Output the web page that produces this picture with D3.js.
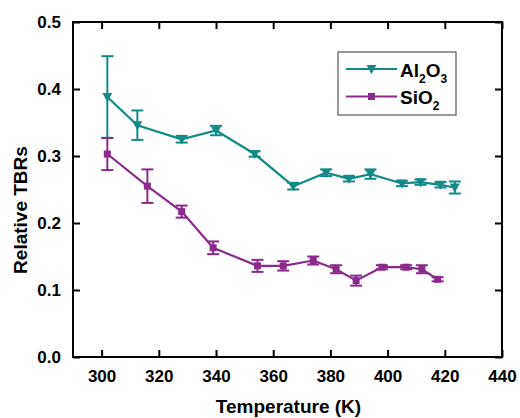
<!DOCTYPE html>
<html><head><meta charset="utf-8">
<script src="https://cdn.jsdelivr.net/npm/d3@7"></script>
<style>body{margin:0;background:#fff}svg{display:block}text{font-family:"Liberation Sans",Arial,sans-serif;font-weight:bold}</style>
</head><body>
<script>
const alT = [302, 312.5, 328, 340, 353.5, 367, 378.5, 386.5, 394, 405, 411.5, 418.5, 423.5];
const alV = [0.388, 0.346, 0.325, 0.338, 0.303, 0.255, 0.275, 0.266, 0.273, 0.259, 0.261, 0.257, 0.253];
const alE = [0.061, 0.022, 0.005, 0.007, 0.004, 0.005, 0.005, 0.004, 0.007, 0.004, 0.004, 0.004, 0.009];
const siT = [302, 316, 328, 339, 354.5, 363.5, 374, 382, 389, 398, 406.5, 412, 417.5];
const siV = [0.303, 0.255, 0.217, 0.163, 0.136, 0.136, 0.144, 0.131, 0.114, 0.134, 0.134, 0.131, 0.116];
const siE = [0.024, 0.025, 0.009, 0.0095, 0.009, 0.007, 0.006, 0.006, 0.0075, 0.003, 0.003, 0.006, 0.003];
const xTicks = [300, 320, 340, 360, 380, 400, 420, 440];
const yTicks = [0.0, 0.1, 0.2, 0.3, 0.4, 0.5];

const W = 520, H = 418;
const L = 73, R = 502, T = 22, B = 357;
const teal = "#138a86", purple = "#8c2a8c";

const svg = d3.select("body").append("svg").attr("width", W).attr("height", H);
const x = d3.scaleLinear().domain([290, 440]).range([L, R]);
const y = d3.scaleLinear().domain([0, 0.5]).range([B, T]);

// axes with inward ticks
const tl = 7;
const gB = svg.append("g").attr("transform", `translate(0,${B})`)
  .call(d3.axisBottom(x).tickValues(xTicks).tickSize(-tl).tickPadding(tl + 6).tickFormat(d3.format("d")));
const gT = svg.append("g").attr("transform", `translate(0,${T})`)
  .call(d3.axisTop(x).tickValues(xTicks).tickSize(-tl).tickFormat(""));
const gL = svg.append("g").attr("transform", `translate(${L},0)`)
  .call(d3.axisLeft(y).tickValues(yTicks).tickSize(-tl).tickPadding(tl + 5).tickFormat(d3.format(".1f")));
const gR = svg.append("g").attr("transform", `translate(${R},0)`)
  .call(d3.axisRight(y).tickValues(yTicks).tickSize(-tl).tickFormat(""));
[gB, gT, gL, gR].forEach(g => {
  g.select(".domain").remove();
  g.selectAll(".tick line").attr("stroke", "#000").attr("stroke-width", 2);
  g.selectAll(".tick text").attr("fill", "#000").style("font-size", "17px");
});
gB.selectAll(".tick text").attr("dy", "0.71em");
svg.append("rect").attr("x", L).attr("y", T).attr("width", R - L).attr("height", B - T)
  .attr("fill", "none").attr("stroke", "#000").attr("stroke-width", 2);

// titles
svg.append("text").attr("x", (L + R) / 2 + 1).attr("y", 413).attr("text-anchor", "middle")
  .style("font-size", "19px").text("Temperature (K)");
svg.append("text").attr("transform", "translate(27,210) rotate(-90)").attr("text-anchor", "middle")
  .style("font-size", "19px").text("Relative TBRs");

function series(ts, vs, es, color, shape) {
  const pts = ts.map((t, i) => ({t, v: vs[i], e: es[i]}));
  const g = svg.append("g");
  g.append("path").datum(pts).attr("fill", "none").attr("stroke", color).attr("stroke-width", 2.2)
    .attr("d", d3.line().x(d => x(d.t)).y(d => y(d.v)));
  const cw = 6;
  pts.forEach(d => {
    const cx = x(d.t), y1 = y(d.v + d.e), y2 = y(d.v - d.e);
    g.append("line").attr("x1", cx).attr("x2", cx).attr("y1", y1).attr("y2", y2).attr("stroke", color).attr("stroke-width", 2);
    [y1, y2].forEach(yy => g.append("line").attr("x1", cx - cw).attr("x2", cx + cw).attr("y1", yy).attr("y2", yy)
      .attr("stroke", color).attr("stroke-width", 2));
  });
  g.selectAll("path.m").data(pts).enter().append("path")
    .attr("d", shape).attr("fill", color)
    .attr("transform", d => `translate(${x(d.t)},${y(d.v)})`);
}
const tri = "M-5,-4L5,-4L0,5Z";
const sq = "M-3.5,-3.5H3.5V3.5H-3.5Z";
series(alT, alV, alE, teal, tri);
series(siT, siV, siE, purple, sq);

// legend
const lg = svg.append("g");
lg.append("rect").attr("x", 338).attr("y", 52).attr("width", 118).attr("height", 63)
  .attr("fill", "#fff").attr("stroke", "#555").attr("stroke-width", 1.2);
const items = [
  {name: "Al", sub1: "2", mid: "O", sub2: "3", color: teal, shape: tri, yy: 69},
  {name: "SiO", sub1: "2", color: purple, shape: sq, yy: 96.5}
];
items.forEach(it => {
  lg.append("line").attr("x1", 346).attr("x2", 397).attr("y1", it.yy).attr("y2", it.yy)
    .attr("stroke", it.color).attr("stroke-width", 2.2);
  lg.append("path").attr("d", it.shape).attr("fill", it.color).attr("transform", `translate(371.5,${it.yy})`);
  const t = lg.append("text").attr("x", 400).attr("y", it.yy + 7.5).style("font-size", "19px");
  t.append("tspan").text(it.name);
  t.append("tspan").attr("dy", 6).style("font-size", "12px").text(it.sub1);
  if (it.mid) {
    t.append("tspan").attr("dy", -6).text(it.mid);
    t.append("tspan").attr("dy", 6).style("font-size", "12px").text(it.sub2);
  }
});
</script>
</body></html>
